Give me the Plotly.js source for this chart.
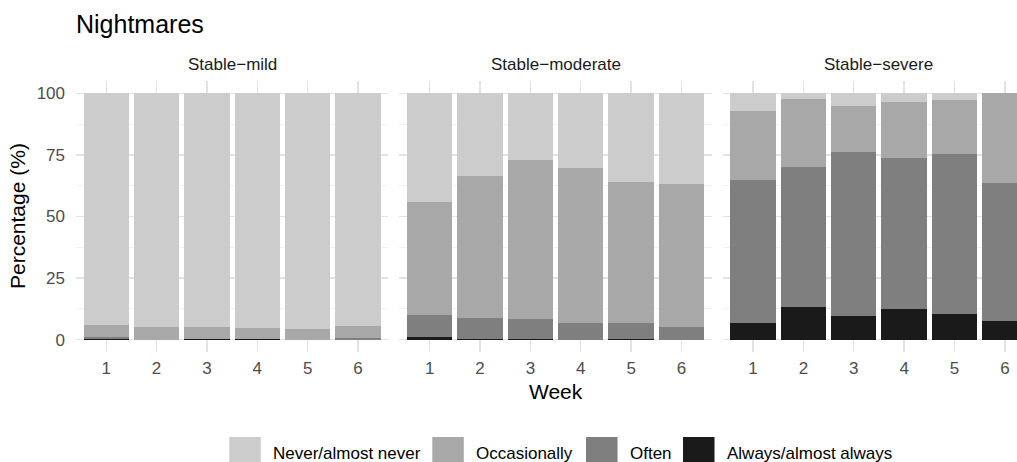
<!DOCTYPE html>
<html>
<head>
<meta charset="utf-8">
<script src="https://cdn.plot.ly/plotly-3.0.1.min.js"></script>
<style>html,body{margin:0;padding:0;background:#fff;}#chart{width:1017px;height:462px;}</style>
</head>
<body>
<div id="chart"></div>
<script>
// ---- data ----
const weeks = [1, 2, 3, 4, 5, 6];
const panels = ["Stable\u2212mild", "Stable\u2212moderate", "Stable\u2212severe"];
const responses = ["Never/almost never", "Occasionally", "Often", "Always/almost always"];

const alwaysMild = [0.4, 0, 0.3, 0.3, 0, 0];
const oftenMild = [0.5, 0, 0, 0, 0, 0.5];
const occMild = [5.2, 5.3, 5.0, 4.3, 4.2, 5.2];
const neverMild = [93.9, 94.7, 94.7, 95.4, 95.8, 94.3];

const alwaysModerate = [1.1, 0.4, 0.2, 0, 0.4, 0];
const oftenModerate = [9.0, 8.6, 8.2, 6.7, 6.3, 5.3];
const occModerate = [45.9, 57.5, 64.6, 62.8, 57.3, 57.9];
const neverModerate = [44.0, 33.5, 27.0, 30.5, 36.0, 36.8];

const alwaysSevere = [6.7, 13.1, 9.7, 12.4, 10.5, 7.6];
const oftenSevere = [58.1, 56.8, 66.3, 61.3, 64.7, 56.2];
const occSevere = [28.2, 27.9, 18.9, 22.7, 22.2, 36.2];
const neverSevere = [7.0, 2.2, 5.1, 3.6, 2.6, 0];

const yTicks = [0, 25, 50, 75, 100];

// ---- styling ----
const colors = {
  "Never/almost never": "#CCCCCC",
  "Occasionally": "#A8A8A8",
  "Often": "#7F7F7F",
  "Always/almost always": "#1A1A1A"
};
const FONT = "Liberation Sans, Arial, Helvetica, sans-serif";

const panelData = [
  {"Never/almost never": neverMild, "Occasionally": occMild, "Often": oftenMild, "Always/almost always": alwaysMild},
  {"Never/almost never": neverModerate, "Occasionally": occModerate, "Often": oftenModerate, "Always/almost always": alwaysModerate},
  {"Never/almost never": neverSevere, "Occasionally": occSevere, "Often": oftenSevere, "Always/almost always": alwaysSevere}
];

const traces = [];
const stackOrder = responses.slice().reverse(); // bottom first
panelData.forEach((pd, i) => {
  const ax = i === 0 ? "" : String(i + 1);
  stackOrder.forEach(r => {
    traces.push({
      type: "bar",
      x: weeks,
      y: pd[r],
      name: r,
      xaxis: "x" + ax,
      yaxis: "y" + ax,
      width: 0.9,
      marker: {color: colors[r], line: {width: 0}},
      showlegend: false,
      hoverinfo: "x+y+name"
    });
  });
});

// ---- layout geometry ----
const W = 1017, H = 462, ML = 76, MR = 0, MT = 81, MB = 110;
const PW = W - ML - MR, PH = H - MT - MB;
const px2x = px => (px - ML) / PW;
const px2y = py => (H - MB - py) / PH;

const domains = [[0, 0.3319], [0.3437, 0.6756], [0.6874, 1]];
const xRanges = [[0.4, 6.6], [0.4, 6.6], [0.4, 6.241]];

const gridCol = "#E3E3E3";
function xAxis(i) {
  return {
    domain: domains[i], range: xRanges[i], anchor: i === 0 ? "y" : "y" + (i + 1),
    tickmode: "array", tickvals: weeks, ticktext: weeks.map(String),
    showgrid: true, gridcolor: gridCol, gridwidth: 1.3, zeroline: false, showline: false,
    ticks: "", tickfont: {family: FONT, size: 17, color: "#4D4D4D"}, ticklabelstandoff: 4,
    fixedrange: true
  };
}
function yAxis(i) {
  return {
    domain: [0, 1], range: [-5, 105], anchor: i === 0 ? "x" : "x" + (i + 1),
    tickmode: "array", tickvals: yTicks, ticktext: yTicks.map(String),
    showticklabels: i === 0,
    showgrid: true, gridcolor: gridCol, gridwidth: 1.3, zeroline: false, showline: false,
    minor: {tickvals: [12.5, 37.5, 62.5, 87.5], showgrid: true, gridcolor: "#EDEDED", gridwidth: 0.7, ticks: ""},
    ticks: "", tickfont: {family: FONT, size: 17, color: "#4D4D4D"}, ticklabelstandoff: 10,
    fixedrange: true
  };
}

const annotations = [];
panels.forEach((p, i) => {
  const x0 = ML + domains[i][0] * PW;
  const pxCenter = x0 + 312.3 / 2;
  annotations.push({
    text: p, xref: "paper", yref: "paper", x: px2x(pxCenter), y: px2y(65),
    xanchor: "center", yanchor: "middle", showarrow: false,
    font: {family: FONT, size: 17, color: "#1A1A1A"}
  });
});
annotations.push({
  text: "Week", xref: "paper", yref: "paper", x: px2x(555.5), y: px2y(391.5),
  xanchor: "center", yanchor: "middle", showarrow: false,
  font: {family: FONT, size: 21, color: "#000000"}
});
annotations.push({
  text: "Percentage (%)", xref: "paper", yref: "paper", x: px2x(17.5), y: 0.5,
  xanchor: "center", yanchor: "middle", textangle: -90, showarrow: false,
  font: {family: FONT, size: 21, color: "#000000"}
});

// legend drawn manually (large keys as in reference)
const legendKeyX = [229.3, 432.3, 586, 683];
const shapes = [];
responses.forEach((r, k) => {
  shapes.push({
    type: "rect", xref: "paper", yref: "paper",
    x0: px2x(legendKeyX[k]), x1: px2x(legendKeyX[k] + 31.5),
    y0: px2y(470), y1: px2y(437),
    fillcolor: colors[r], line: {width: 0}, layer: "above"
  });
  annotations.push({
    text: r, xref: "paper", yref: "paper", x: px2x(legendKeyX[k] + 41.5), y: px2y(453),
    xanchor: "left", yanchor: "middle", showarrow: false,
    font: {family: FONT, size: 17, color: "#000000"}
  });
});

const layout = {
  width: W, height: H,
  margin: {l: ML, r: MR, t: MT, b: MB, pad: 0},
  paper_bgcolor: "#FFFFFF", plot_bgcolor: "#FFFFFF",
  barmode: "stack", bargap: 0.1,
  showlegend: false,
  title: {
    text: "Nightmares", xref: "container", yref: "container",
    x: 76 / W, xanchor: "left", y: 1 - 24 / H, yanchor: "middle",
    font: {family: FONT, size: 25, color: "#000000"}
  },
  xaxis: xAxis(0), xaxis2: xAxis(1), xaxis3: xAxis(2),
  yaxis: yAxis(0), yaxis2: yAxis(1), yaxis3: yAxis(2),
  annotations: annotations,
  shapes: shapes
};

Plotly.newPlot("chart", traces, layout, {displayModeBar: false, staticPlot: true});
</script>
</body>
</html>
